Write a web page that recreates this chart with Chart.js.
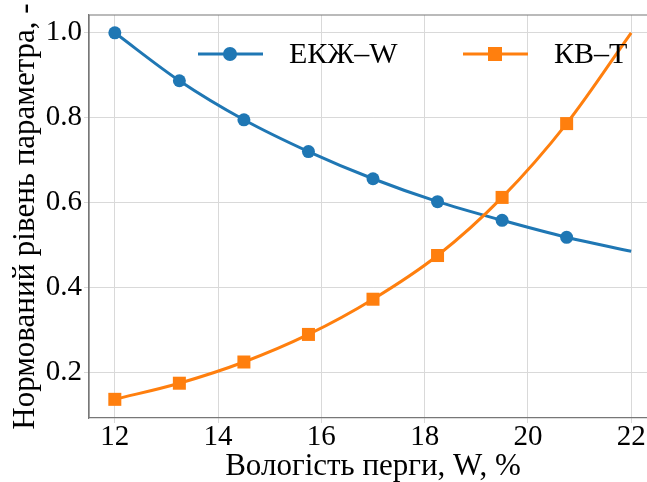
<!DOCTYPE html>
<html lang="uk">
<head>
<meta charset="UTF-8">
<script src="https://cdn.jsdelivr.net/npm/chart.js@4.4.0/dist/chart.umd.min.js"></script>
<style>
    body{
        margin: 0;
        padding: 0;
        background: white;
        overflow: hidden;
    }
    .wrap{
        width: 700px;
        height: 482px;
    }
</style>
<title>Нормований рівень параметра</title>
</head>
<body>
<div class="wrap">
    <canvas id="chart" width="700" height="482"></canvas>
</div>
<script>
// moisture values, %
const moisture = [12, 13.25, 14.5, 15.75, 17, 18.25, 19.5, 20.75, 22];
const ekzW = [1.0, 0.887, 0.795, 0.72, 0.656, 0.602, 0.558, 0.518, 0.485];
const kvT = [0.136, 0.174, 0.224, 0.289, 0.372, 0.475, 0.612, 0.786, 1.0];
const xTicks = [12, 14, 16, 18, 20, 22];
const yTicks = [0.2, 0.4, 0.6, 0.8, 1.0];

const blue = '#1f77b4';
const orange = '#ff7f0e';
const serif = "'Liberation Serif'";

function pts(ys){
    return moisture.map((x, i) => ({x: x, y: ys[i]}));
}
// last point of each curve carries no marker
const radii = moisture.map((x, i) => i === moisture.length - 1 ? 0 : 6.5);
const sqRadii = moisture.map((x, i) => i === moisture.length - 1 ? 0 : 9.2);

const frameAndLegend = {
    id: 'frameAndLegend',
    afterDraw(chart){
        const ctx = chart.ctx;
        const a = chart.chartArea;
        ctx.save();
        ctx.strokeStyle = '#777';
        ctx.lineWidth = 1.2;
        ctx.beginPath();
        ctx.moveTo(a.left, a.bottom);
        ctx.lineTo(a.left, a.top);
        ctx.lineTo(a.right, a.top);
        ctx.stroke();

        // legend inside plot, top
        const ly = 54;
        const items = [
            {ds: chart.data.datasets[0], x0: 198, shape: 'circle'},
            {ds: chart.data.datasets[1], x0: 463, shape: 'rect'}
        ];
        ctx.font = '30px ' + serif;
        ctx.textBaseline = 'middle';
        items.forEach(it => {
            ctx.strokeStyle = it.ds.borderColor;
            ctx.fillStyle = it.ds.borderColor;
            ctx.lineWidth = 3;
            ctx.beginPath();
            ctx.moveTo(it.x0, ly);
            ctx.lineTo(it.x0 + 65, ly);
            ctx.stroke();
            const cx = it.x0 + 32;
            if (it.shape === 'circle'){
                ctx.beginPath();
                ctx.arc(cx, ly, 7, 0, Math.PI * 2);
                ctx.fill();
            } else {
                ctx.fillRect(cx - 7, ly - 7, 14, 14);
            }
            ctx.fillStyle = 'black';
            ctx.fillText(it.ds.label, it.x0 + 91, ly + 1);
        });
        ctx.restore();
    }
};

new Chart(document.getElementById('chart'), {
    type: 'line',
    data: {
        datasets: [{
            label: 'ЕКЖ–W',
            data: pts(ekzW),
            borderColor: blue,
            backgroundColor: blue,
            borderWidth: 3,
            pointStyle: 'circle',
            pointRadius: radii,
            pointHoverRadius: radii,
            pointBorderWidth: 0,
            cubicInterpolationMode: 'monotone',
            order: 1
        }, {
            label: 'КВ–T',
            data: pts(kvT),
            borderColor: orange,
            backgroundColor: orange,
            borderWidth: 3,
            pointStyle: 'rect',
            pointRadius: sqRadii,
            pointHoverRadius: sqRadii,
            pointBorderWidth: 0,
            cubicInterpolationMode: 'monotone',
            order: 0
        }]
    },
    options: {
        responsive: false,
        animation: false,
        layout: {autoPadding: false, padding: {left: 0, right: 43, top: 15, bottom: 0}},
        plugins: {
            legend: {display: false},
            tooltip: {enabled: false}
        },
        scales: {
            x: {
                type: 'linear',
                min: 11.5,
                max: 22.5,
                afterBuildTicks: s => { s.ticks = xTicks.map(v => ({value: v})); },
                afterFit: s => { s.height = 64; s.paddingLeft = 0; s.paddingRight = 0; },
                grid: {color: '#d9d9d9', tickLength: 5, drawOnChartArea: true},
                border: {color: '#777', width: 1.2},
                ticks: {
                    color: 'black',
                    font: {family: serif, size: 29},
                    padding: -3,
                    maxRotation: 0
                },
                title: {
                    display: true,
                    text: 'Вологість перги, W, %',
                    color: 'black',
                    font: {family: serif, size: 31},
                    padding: {top: 0, bottom: -3}
                }
            },
            y: {
                min: 0.092,
                max: 1.042,
                afterBuildTicks: s => { s.ticks = yTicks.map(v => ({value: v})); },
                afterFit: s => { s.width = 89; s.paddingTop = 0; s.paddingBottom = 0; },
                grid: {color: '#d9d9d9', tickLength: 5},
                border: {color: '#777', width: 1.2},
                ticks: {
                    color: 'black',
                    font: {family: serif, size: 29},
                    padding: 2,
                    callback: v => v.toFixed(1)
                },
                title: {
                    display: true,
                    text: 'Нормований рівень параметра, -',
                    color: 'black',
                    font: {family: serif, size: 31},
                    padding: {top: 7, bottom: 0}
                }
            }
        }
    },
    plugins: [frameAndLegend]
});
</script>
</body>
</html>
